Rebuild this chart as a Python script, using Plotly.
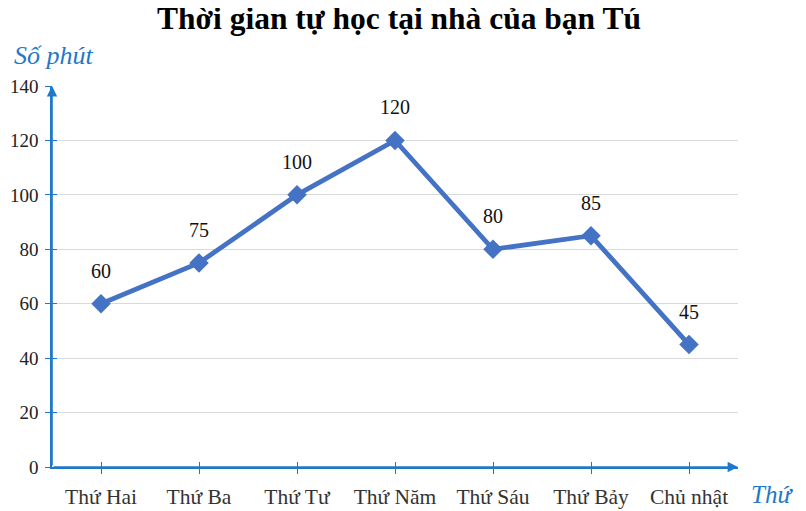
import plotly.graph_objects as go

days = ["Thứ Hai", "Thứ Ba", "Thứ Tư", "Thứ Năm", "Thứ Sáu", "Thứ Bảy", "Chủ nhật"]
minutes = [60, 75, 100, 120, 80, 85, 45]
y_ticks = [0, 20, 40, 60, 80, 100, 120, 140]

AXIS = "#1f78c9"
LINE = "#4472c4"
FONT = "Liberation Serif"

# page body has an 8px margin; figure placed at (8, 8) on the page
W, H = 798, 503
PL, PT, PW, PH = 44, 78, 686, 381   # plot area in figure pixels

fig = go.Figure()
fig.add_trace(go.Scatter(
    x=days, y=minutes, mode="lines+markers",
    line=dict(color=LINE, width=4.8),
    marker=dict(symbol="diamond", size=15, color=LINE),
    hoverinfo="skip", showlegend=False,
))
# invisible trace on overlay axes (for crossing ticks)
fig.add_trace(go.Scatter(x=days, y=minutes, xaxis="x2", yaxis="y2", mode="markers",
                         marker=dict(opacity=0), showlegend=False, hoverinfo="skip"))

for d, v in zip(days, minutes):
    fig.add_annotation(x=d, y=v, text=str(v), showarrow=False, yshift=33,
                       font=dict(family=FONT, size=20, color="#111"))

# axis arrows
fig.add_annotation(x=-0.5, y=140, ax=-0.5, ay=0, xref="x", yref="y", axref="x", ayref="y",
                   showarrow=True, arrowhead=2, arrowsize=1.3, arrowwidth=1.6, arrowcolor=AXIS, text="")
fig.add_annotation(x=6.5, y=0, ax=-0.5, ay=0, xref="x", yref="y", axref="x", ayref="y",
                   showarrow=True, arrowhead=2, arrowsize=1.3, arrowwidth=1.6, arrowcolor=AXIS, text="")

def px(xp):  # page x -> paper
    return (xp - 8 - PL) / PW

def py(yp):  # page y -> paper
    return 1 - (yp - 8 - PT) / PH

fig.add_annotation(text="<i>Số phút</i>", xref="paper", yref="paper", x=px(12), y=py(55),
                   xanchor="left", yanchor="middle", showarrow=False,
                   font=dict(family=FONT, size=26, color=AXIS))
fig.add_annotation(text="<i>Thứ</i>", xref="paper", yref="paper", x=px(749), y=py(494),
                   xanchor="left", yanchor="middle", showarrow=False,
                   font=dict(family=FONT, size=25, color=AXIS))

fig.update_layout(
    width=W, height=H,
    margin=dict(l=PL, r=W - PL - PW, t=PT, b=H - PT - PH, pad=0),
    paper_bgcolor="white", plot_bgcolor="white",
    title=dict(text="<b>Thời gian tự học tại nhà của bạn Tú</b>", x=(399 - 8) / W, xanchor="center",
               y=1 - (18 - 8) / H, yanchor="middle", font=dict(family=FONT, size=31.5, color="black")),
    xaxis=dict(type="category", categoryorder="array", categoryarray=days,
               range=[-0.5, 6.5], showgrid=False, zeroline=False, automargin=False,
               showline=True, linecolor=AXIS, linewidth=1.6,
               ticks="outside", ticklen=5, tickcolor=AXIS, tickwidth=1.3,
               ticklabelstandoff=4,
               tickfont=dict(family=FONT, size=21.5, color="#333")),
    yaxis=dict(range=[0, 140], tickvals=y_ticks, showgrid=True, gridcolor="#d9d9d9",
               gridwidth=1, zeroline=False, showline=True, linecolor=AXIS, linewidth=1.6,
               automargin=False,
               ticks="outside", ticklen=5, tickcolor=AXIS, tickwidth=1.3,
               ticklabelstandoff=3,
               tickfont=dict(family=FONT, size=19, color="#222")),
    xaxis2=dict(type="category", categoryorder="array", categoryarray=days,
                range=[-0.5, 6.5], overlaying="x", anchor="y2", showgrid=False,
                zeroline=False, showticklabels=False, ticks="inside", ticklen=5,
                tickcolor=AXIS, tickwidth=1.3, side="bottom", automargin=False),
    yaxis2=dict(range=[0, 140], tickvals=y_ticks, overlaying="y", anchor="x2",
                showgrid=False, zeroline=False, showticklabels=False, ticks="inside",
                ticklen=5, tickcolor=AXIS, tickwidth=1.3, side="left", automargin=False),
)

fig.write_html("out.html")
